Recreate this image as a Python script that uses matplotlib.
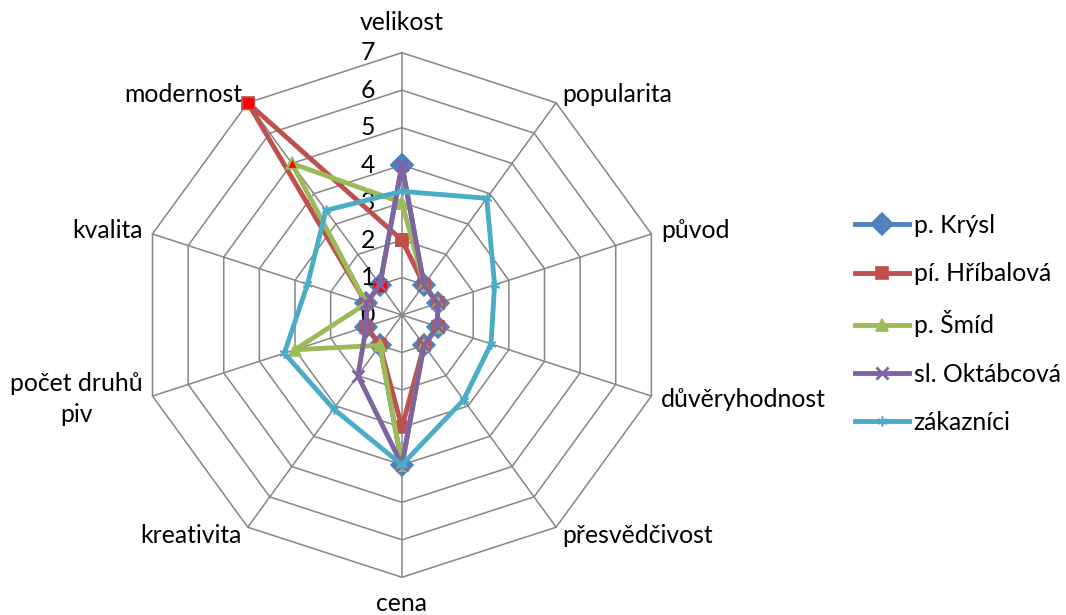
import matplotlib.pyplot as plt
import numpy as np

plt.rcParams['font.family'] = ['Lato', 'DejaVu Sans']

categories = ['velikost', 'popularita', 'původ', 'důvěryhodnost', 'přesvědčivost',
              'cena', 'kreativita', 'počet druhů\npiv', 'kvalita', 'modernost']
names = ['p. Krýsl', 'pí. Hříbalová', 'p. Šmíd', 'sl. Oktábcová', 'zákazníci']
krysl = [4, 1, 1, 1, 1, 4, 1, 1, 1, 1]
hribalova = [2, 1, 1, 1, 1, 3, 1, 1, 1, 7]
smid = [3, 1, 1, 1, 1, 4, 1, 3, 1, 5]
oktabcova = [4, 1, 1, 1, 1, 4, 2, 1, 1, 1]
zakaznici = [3.3, 3.85, 2.6, 2.5, 2.8, 4.0, 3.1, 3.3, 2.65, 3.45]
levels = [0, 1, 2, 3, 4, 5, 6, 7]

colors = ['#4F81BD', '#C0504D', '#9BBB59', '#8064A2', '#4BACC6']
markers = ['D', 's', '^', 'x', (6, 2, 0)]
msizes = [11, 8.5, 8, 8, 7]
grid_col = '#868686'
fs = 17.8

n = len(categories)
ang = np.arange(n) * 2 * np.pi / n
ang_c = np.append(ang, ang[0])

fig = plt.figure(figsize=(10.66, 6.15), dpi=100)
ax = fig.add_axes([0.131, 0.0613, 0.4921, 0.853], projection='polar')
ax.set_theta_zero_location('N')
ax.set_theta_direction(-1)
ax.set_ylim(0, 7)
ax.grid(False)
ax.set_xticks([])
ax.set_yticks([])
ax.spines['polar'].set_visible(False)
ax.patch.set_alpha(0)

# polygon grid and spokes
for k in levels[1:]:
    ax.plot(ang_c, [k] * (n + 1), color=grid_col, lw=1.1, zorder=1, clip_on=False)
for a in ang:
    ax.plot([a, a], [0, levels[-1]], color=grid_col, lw=1.1, zorder=1, clip_on=False)

series = [krysl, hribalova, smid, oktabcova, zakaznici]
for i, vals in enumerate(series):
    v = np.append(vals, vals[0])
    mew = 2 if markers[i] == 'x' else 1.2
    ax.plot(ang_c, v, color=colors[i], lw=3.5, marker=markers[i], ms=msizes[i],
            mec=colors[i], mew=mew, label=names[i], zorder=3 + i, clip_on=False)
    if i == 2:
        # modernost points highlighted in red
        ax.plot(ang[9], hribalova[9], 's', color='#FF0000', ms=8.5, mec='#C0504D',
                mew=1, zorder=9, clip_on=False)
        ax.plot(ang[9], smid[9], '^', color='#FF0000', ms=7, mec='#9BBB59',
                mew=1, zorder=9, clip_on=False)
        ax.plot(ang[9], oktabcova[9], 's', color='#FF0000', ms=8.5, mec='#FF0000',
                zorder=5.5, clip_on=False)

# category labels around the chart
for a, lab in zip(ang, categories):
    s, c = np.sin(a), np.cos(a)
    if abs(s) < 0.1:
        ha = 'center'
        off = (0, 30 if c > 0 else -26)
    else:
        ha = 'left' if s > 0 else 'right'
        off = (10 * s, 10 * c)
    ax.annotate(lab, xy=(a, levels[-1]), xytext=off, textcoords='offset pixels',
                ha=ha, va='center', multialignment='center', fontsize=fs,
                linespacing=1.45, annotation_clip=False)

# radial scale labels
for k in levels:
    ax.annotate(str(k), xy=(0, k), xytext=(-27, 0), textcoords='offset pixels',
                ha='right', va='center', fontsize=fs, annotation_clip=False)

leg = ax.legend(loc='upper left', bbox_to_anchor=(855 / 1066, 1 - 214 / 615),
                bbox_transform=fig.transFigure, frameon=False, fontsize=fs,
                handlelength=2.2, handletextpad=0.17, labelspacing=1.02,
                borderpad=0, borderaxespad=0)

fig.savefig('out.png', dpi=100)
